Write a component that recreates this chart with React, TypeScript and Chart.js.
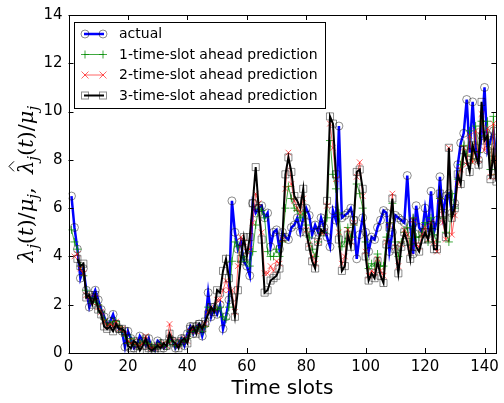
import React, { useEffect, useRef } from "react";
import { Chart, registerables } from "chart.js";

Chart.register(...registerables);

// x = 1..144
const ACTUAL = [
  6.5, 5.2, 4.3, 3.1, 3.5, 2.6, 1.9, 2.3, 2.6, 2.2,
  1.8, 1.5, 1.2, 1.3, 1.6, 1.2, 1.0, 0.9, 0.25, 0.9,
  0.6, 0.2, 0.3, 0.7, 0.5, 0.3, 0.6, 0.2, 0.1, 0.5,
  0.4, 0.2, 0.3, 0.6, 0.5, 0.2, 0.4, 0.6, 0.3, 0.8,
  1.1, 0.8, 1.1, 1.2, 0.7, 1.2, 2.5, 1.5, 1.9, 1.6,
  2.0, 1.0, 1.5, 2.2, 6.3, 5.0, 4.3, 4.6, 3.8, 3.6,
  3.2, 6.2, 5.8, 6.0, 6.1, 5.6, 5.8, 4.4, 5.0, 5.1,
  4.3, 5.0, 4.8, 4.7, 5.2, 5.3, 5.6, 5.0, 5.6, 6.0,
  5.7, 4.9, 5.3, 5.0, 5.6, 5.2, 4.8, 4.4, 5.9, 5.5,
  9.4, 5.6, 5.7, 5.8, 6.0, 5.5, 3.9, 4.9, 5.6, 5.0,
  4.2, 4.8, 4.7, 5.2, 5.5, 5.9, 5.8, 4.2, 5.0, 5.7,
  5.6, 5.5, 5.4, 7.35, 5.3, 4.1, 6.1, 5.2, 5.0, 6.0,
  5.2, 6.7, 5.0, 5.5, 7.3, 5.7, 6.5, 6.6, 5.8, 6.2,
  7.8, 8.7, 9.1, 10.5, 8.3, 10.4, 8.5, 8.0, 9.0, 11.0,
  8.4, 8.8, 9.2, 8.0,
];

// x = 1..144
const PRED1 = [
  5.1, 4.6, 4.3, 3.6, 3.2, 2.6, 2.3, 2.1, 2.2, 2.0,
  1.7, 1.4, 1.2, 1.2, 1.3, 1.3, 1.1, 0.9, 0.7, 0.4,
  0.6, 0.4, 0.3, 0.4, 0.5, 0.4, 0.4, 0.3, 0.2, 0.3,
  0.4, 0.3, 0.3, 0.5, 0.5, 0.3, 0.3, 0.5, 0.5, 0.6,
  0.9, 0.9, 1.0, 1.1, 0.9, 1.1, 1.9, 1.8, 1.8, 1.8,
  1.9, 1.5, 1.4, 1.9, 3.8, 4.6, 4.4, 3.8, 4.0, 3.8,
  3.6, 4.2, 5.3, 6.0, 5.9, 5.6, 4.2, 4.0, 4.0, 4.3,
  4.0, 4.6, 6.0, 6.9, 6.4, 6.0, 5.9, 5.6, 5.8, 5.3,
  4.8, 4.3, 4.0, 4.6, 5.0, 5.0, 5.6, 8.8, 7.4, 6.8,
  5.8, 4.4, 4.6, 5.2, 4.8, 5.3, 7.0, 6.6, 6.0, 4.6,
  3.5, 3.7, 3.6, 4.1, 3.6, 3.6, 4.8, 5.4, 6.2, 4.6,
  4.0, 4.6, 5.0, 5.2, 4.5, 5.6, 4.8, 4.8, 5.0, 5.4,
  4.6, 5.6, 4.9, 4.6, 6.4, 5.6, 5.0, 4.6, 6.6, 6.0,
  7.2, 7.8, 8.6, 8.2, 9.2, 8.0, 9.4, 8.3, 9.6, 9.0,
  9.6, 7.6, 9.8, 7.4,
];

// x = 2..144
const PRED2 = [
  4.0, 4.1, 3.5, 3.3, 2.4, 2.3, 2.1, 2.3, 1.9,
  1.7, 1.3, 1.1, 1.2, 1.1, 1.3, 1.0, 1.0, 0.8, 0.5,
  0.4, 0.5, 0.3, 0.3, 0.4, 0.7, 0.3, 0.2, 0.2, 0.3,
  0.3, 0.4, 0.3, 1.2, 0.5, 0.4, 0.3, 0.5, 0.6, 0.5,
  0.9, 1.0, 0.9, 1.1, 1.0, 1.2, 1.7, 1.9, 1.8, 2.2,
  2.2, 2.6, 3.0, 2.6, 2.6, 1.7, 3.6, 4.8, 4.6, 4.2,
  4.3, 5.4, 6.6, 6.2, 5.0, 3.3, 3.3, 3.6, 3.4, 3.8,
  3.7, 4.7, 6.8, 8.3, 7.0, 6.3, 6.0, 5.8, 6.4, 5.1,
  4.5, 4.0, 3.7, 4.6, 5.0, 5.0, 6.1, 9.5, 8.5, 7.2,
  5.0, 3.7, 4.0, 5.1, 4.6, 5.4, 7.3, 7.9, 6.5, 4.2,
  3.2, 3.4, 3.3, 3.9, 3.4, 3.2, 4.6, 5.3, 6.6, 4.4,
  3.6, 4.5, 5.1, 4.9, 4.2, 5.5, 4.5, 4.4, 4.9, 5.2,
  4.7, 5.4, 4.6, 4.2, 6.3, 5.4, 4.7, 8.5, 4.9, 5.7,
  7.0, 7.6, 8.5, 7.8, 9.0, 7.9, 9.2, 8.0, 9.9, 8.4,
  9.3, 7.3, 9.5, 7.3,
];

// x = 3..144
const PRED3 = [
  3.9, 3.6, 3.7, 2.3, 2.4, 2.0, 2.4, 1.8,
  1.6, 1.1, 1.0, 1.1, 0.9, 1.2, 1.0, 1.0, 0.9, 0.3,
  0.2, 0.5, 0.4, 0.1, 0.3, 0.6, 0.2, 0.1, 0.2, 0.3,
  0.2, 0.4, 0.3, 0.8, 0.5, 0.4, 0.2, 0.5, 0.6, 0.4,
  1.0, 1.1, 0.8, 1.2, 1.0, 1.3, 1.6, 1.9, 1.7, 2.6,
  2.5, 3.4, 3.9, 3.1, 2.3, 1.5, 2.6, 3.9, 4.8, 4.0,
  4.8, 6.2, 7.7, 6.0, 4.7, 2.5, 2.6, 3.0, 3.1, 3.2,
  3.5, 4.8, 7.4, 8.1, 7.5, 6.5, 6.3, 6.0, 6.8, 5.0,
  4.4, 3.8, 3.5, 4.6, 5.1, 5.0, 6.3, 9.8, 9.5, 7.4,
  4.7, 3.4, 3.6, 4.9, 4.4, 5.5, 7.5, 7.6, 6.8, 4.0,
  3.0, 3.3, 3.1, 3.8, 3.2, 2.9, 4.5, 5.2, 6.4, 4.3,
  3.3, 4.4, 5.0, 4.6, 3.9, 5.4, 4.4, 4.2, 4.7, 5.0,
  4.7, 5.3, 4.3, 4.3, 6.6, 5.8, 4.8, 8.5, 5.6, 6.0,
  7.4, 7.0, 8.4, 8.0, 7.5, 8.6, 8.2, 7.8, 10.4, 8.8,
  9.0, 7.2, 8.3, 7.1,
];

const START_ACTUAL = 1;
const START_PRED1 = 1;
const START_PRED2 = 2;
const START_PRED3 = 3;

const X_TICKS = [0, 20, 40, 60, 80, 100, 120, 140];
const Y_TICKS = [0, 2, 4, 6, 8, 10, 12, 14];
const X_MIN = 0;
const X_MAX = 144;
const Y_MIN = 0;
const Y_MAX = 14;

const LABELS = [
  "actual",
  "1-time-slot ahead prediction",
  "2-time-slot ahead prediction",
  "3-time-slot ahead prediction",
];
const X_TITLE = "Time slots";

const BLUE = "#0000ff";
const GREEN = "rgba(0,140,0,0.75)";
const RED = "rgba(255,0,0,0.6)";
const BLACK = "#000000";
const MARKER_GRAY = "rgba(0,0,0,0.45)";

const toPoints = (arr: number[], start: number) =>
  arr.map((v, i) => ({ x: start + i, y: v }));

function drawMarker(ctx: CanvasRenderingContext2D, kind: string, x: number, y: number) {
  ctx.save();
  ctx.lineWidth = 1;
  if (kind === "circle") {
    ctx.strokeStyle = MARKER_GRAY;
    ctx.beginPath();
    ctx.arc(x, y, 4, 0, Math.PI * 2);
    ctx.stroke();
  } else if (kind === "cross") {
    ctx.strokeStyle = GREEN;
    ctx.beginPath();
    ctx.moveTo(x - 4, y);
    ctx.lineTo(x + 4, y);
    ctx.moveTo(x, y - 4);
    ctx.lineTo(x, y + 4);
    ctx.stroke();
  } else if (kind === "crossRot") {
    ctx.strokeStyle = RED;
    ctx.beginPath();
    ctx.moveTo(x - 3.5, y - 3.5);
    ctx.lineTo(x + 3.5, y + 3.5);
    ctx.moveTo(x - 3.5, y + 3.5);
    ctx.lineTo(x + 3.5, y - 3.5);
    ctx.stroke();
  } else if (kind === "rect") {
    ctx.strokeStyle = MARKER_GRAY;
    ctx.strokeRect(x - 3.5, y - 3.5, 7, 7);
  }
  ctx.restore();
}

const decorPlugin = {
  id: "decor",
  afterDraw(chart: any) {
    const ctx: CanvasRenderingContext2D = chart.ctx;
    const { left, right, top, bottom } = chart.chartArea;
    const xs = chart.scales.x;
    const ys = chart.scales.y;
    ctx.save();
    // frame
    ctx.strokeStyle = "#000";
    ctx.lineWidth = 1;
    ctx.strokeRect(Math.round(left) + 0.5, Math.round(top) + 0.5, Math.round(right - left) - 1, Math.round(bottom - top));
    // inward ticks
    const TL = 5;
    ctx.beginPath();
    X_TICKS.forEach((v) => {
      const px = Math.round(xs.getPixelForValue(v)) + 0.5;
      ctx.moveTo(px, bottom);
      ctx.lineTo(px, bottom - TL);
      ctx.moveTo(px, top);
      ctx.lineTo(px, top + TL);
    });
    Y_TICKS.forEach((v) => {
      const py = Math.round(ys.getPixelForValue(v)) + 0.5;
      ctx.moveTo(left, py);
      ctx.lineTo(left + TL, py);
      ctx.moveTo(right, py);
      ctx.lineTo(right - TL, py);
    });
    ctx.stroke();

    // legend
    const lx0 = 74.5, ly0 = 22.5, lx1 = 325.5, ly1 = 108.5;
    ctx.fillStyle = "#fff";
    ctx.fillRect(lx0, ly0, lx1 - lx0, ly1 - ly0);
    ctx.strokeStyle = "#000";
    ctx.lineWidth = 1;
    ctx.strokeRect(lx0, ly0, lx1 - lx0, ly1 - ly0);
    const rows = [34, 54.5, 75, 95.5];
    const colors = [BLUE, GREEN, RED, BLACK];
    const widths = [2.5, 1, 1, 2];
    const markers = ["circle", "cross", "crossRot", "rect"];
    ctx.font = '14px "DejaVu Sans"';
    ctx.textBaseline = "middle";
    ctx.textAlign = "left";
    rows.forEach((ry, i) => {
      ctx.strokeStyle = colors[i];
      ctx.lineWidth = widths[i];
      ctx.beginPath();
      ctx.moveTo(84, ry);
      ctx.lineTo(104, ry);
      ctx.stroke();
      drawMarker(ctx, markers[i], 85, ry);
      drawMarker(ctx, markers[i], 103, ry);
      ctx.fillStyle = "#000";
      ctx.fillText(LABELS[i], 119, ry + 0.5);
    });

    // x title
    ctx.font = '20px "DejaVu Sans"';
    ctx.textAlign = "center";
    ctx.textBaseline = "alphabetic";
    ctx.fillStyle = "#000";
    ctx.fillText(X_TITLE, (left + right) / 2, 394);

    // y title (math-like)
    const cy = (top + bottom) / 2;
    ctx.translate(26, cy);
    ctx.rotate(-Math.PI / 2);
    const base = 21;
    const mainF = `italic ${base}px "DejaVu Serif"`;
    const uprF = `${base}px "DejaVu Serif"`;
    const subF = `italic ${Math.round(base * 0.7)}px "DejaVu Serif"`;
    type Seg = { t: string; f: string; dy: number; hat?: boolean };
    const segs: Seg[] = [
      { t: "λ", f: mainF, dy: 0 },
      { t: "j", f: subF, dy: 5 },
      { t: "(", f: uprF, dy: 0 },
      { t: "t", f: mainF, dy: 0 },
      { t: ")/", f: uprF, dy: 0 },
      { t: "μ", f: mainF, dy: 0 },
      { t: "j", f: subF, dy: 5 },
      { t: ",  ", f: uprF, dy: 0 },
      { t: "λ", f: mainF, dy: 0, hat: true },
      { t: "j", f: subF, dy: 5 },
      { t: "(", f: uprF, dy: 0 },
      { t: "t", f: mainF, dy: 0 },
      { t: ")/", f: uprF, dy: 0 },
      { t: "μ", f: mainF, dy: 0 },
      { t: "j", f: subF, dy: 5 },
    ];
    let total = 0;
    const ws = segs.map((s) => {
      ctx.font = s.f;
      const w = ctx.measureText(s.t).width;
      total += w;
      return w;
    });
    let cx = -total / 2;
    ctx.textAlign = "left";
    ctx.textBaseline = "alphabetic";
    segs.forEach((s, i) => {
      ctx.font = s.f;
      ctx.fillText(s.t, cx, 7 + s.dy);
      if (s.hat) {
        ctx.strokeStyle = "#000";
        ctx.lineWidth = 1;
        const hx = cx + ws[i] / 2 + 1;
        ctx.beginPath();
        ctx.moveTo(hx - 5, -12);
        ctx.lineTo(hx, -17);
        ctx.lineTo(hx + 5, -12);
        ctx.stroke();
      }
      cx += ws[i];
    });
    ctx.restore();
  },
};

export default function App() {
  const ref = useRef<HTMLCanvasElement | null>(null);
  useEffect(() => {
    if (!ref.current) return;
    const chart = new Chart(ref.current, {
      type: "line",
      data: {
        datasets: [
          {
            label: LABELS[0],
            data: toPoints(ACTUAL, START_ACTUAL),
            borderColor: BLUE,
            borderWidth: 2.5,
            pointStyle: "circle",
            pointRadius: 4,
            pointBorderColor: MARKER_GRAY,
            pointBackgroundColor: "rgba(0,0,0,0)",
            pointBorderWidth: 1,
            order: 3,
          },
          {
            label: LABELS[1],
            data: toPoints(PRED1, START_PRED1),
            borderColor: GREEN,
            borderWidth: 1,
            pointStyle: "cross",
            pointRadius: 4,
            pointBorderColor: GREEN,
            pointBackgroundColor: "rgba(0,0,0,0)",
            pointBorderWidth: 1,
            order: 2,
          },
          {
            label: LABELS[2],
            data: toPoints(PRED2, START_PRED2),
            borderColor: RED,
            borderWidth: 1,
            pointStyle: "crossRot",
            pointRadius: 4,
            pointBorderColor: RED,
            pointBackgroundColor: "rgba(0,0,0,0)",
            pointBorderWidth: 1,
            order: 1,
          },
          {
            label: LABELS[3],
            data: toPoints(PRED3, START_PRED3),
            borderColor: BLACK,
            borderWidth: 2,
            pointStyle: "rect",
            pointRadius: 5,
            pointBorderColor: MARKER_GRAY,
            pointBackgroundColor: "rgba(0,0,0,0)",
            pointBorderWidth: 1,
            order: 0,
          },
        ],
      },
      options: {
        animation: false,
        responsive: false,
        devicePixelRatio: 1,
        layout: { padding: { top: 15, right: 2, left: 0, bottom: 0 } },
        elements: { line: { tension: 0, fill: false } },
        plugins: { legend: { display: false }, tooltip: { enabled: false } },
        scales: {
          x: {
            type: "linear",
            min: X_MIN,
            max: X_MAX,
            grid: { display: false, drawTicks: false },
            border: { display: false },
            ticks: {
              color: "#000",
              font: { family: "DejaVu Sans", size: 15 },
              padding: 5,
              maxRotation: 0,
              autoSkip: false,
            },
            afterBuildTicks: (s: any) => {
              s.ticks = X_TICKS.map((v) => ({ value: v }));
            },
            afterFit: (s: any) => {
              s.height = 50;
            },
          },
          y: {
            type: "linear",
            min: Y_MIN,
            max: Y_MAX,
            grid: { display: false, drawTicks: false },
            border: { display: false },
            ticks: {
              color: "#000",
              font: { family: "DejaVu Sans", size: 15 },
              padding: 6,
              autoSkip: false,
            },
            afterBuildTicks: (s: any) => {
              s.ticks = Y_TICKS.map((v) => ({ value: v }));
            },
            afterFit: (s: any) => {
              s.width = 68.5;
            },
          },
        },
      },
      plugins: [decorPlugin],
    } as any);
    return () => chart.destroy();
  }, []);
  return (
    <div style={{ position: "fixed", left: 0, top: 0, width: 504, height: 403, background: "#fff" }}>
      <canvas ref={ref} width={504} height={403} style={{ display: "block" }} />
    </div>
  );
}
